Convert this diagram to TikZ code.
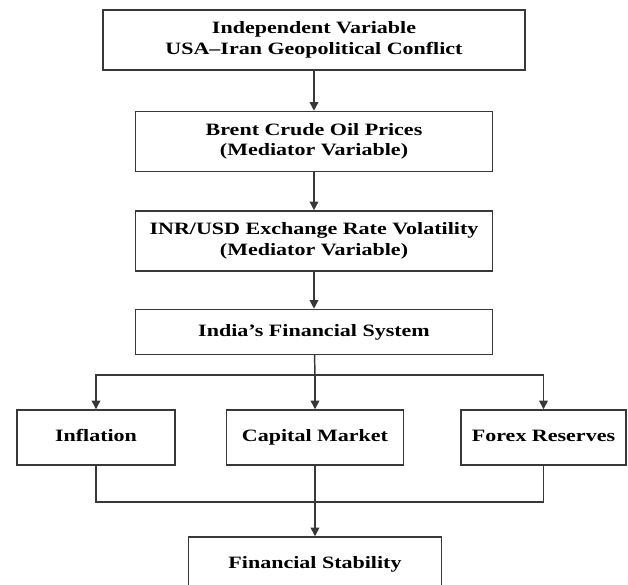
\documentclass[tikz,border=0pt]{standalone}
\usepackage{fontspec}
\setmainfont{Liberation Serif}[FakeStretch=1.27]
\usetikzlibrary{positioning, arrows.meta}
\definecolor{edge}{HTML}{383838}
\begin{document}
\begin{tikzpicture}[>={Triangle[length=6.5pt, width=6.5pt]}, x=0.75pt, y=-0.75pt, line width=1.1pt, draw=edge,
    box/.style={draw=edge, align=center, inner sep=0pt, minimum height=45pt,
        font=\fontsize{13}{15.5}\selectfont\bfseries},
    rowbox/.style={box, minimum height=41.25pt, text height=9pt, text depth=2.5pt}]
                \useasboundingbox (0,0) rectangle (628,585);
                \clip (0,0) rectangle (628,585);
                \node[box, minimum width=316.5pt] (iv) at (314,40) {Independent Variable\\USA--Iran Geopolitical Conflict};
                \node[box, minimum width=267.75pt, below=30pt of iv] (oil) {Brent Crude Oil Prices\\(Mediator Variable)};
                \node[box, minimum width=267.75pt, below=28.5pt of oil] (fx) {INR/USD Exchange Rate Volatility\\(Mediator Variable)};
                \node[box, minimum width=267.75pt, minimum height=33.75pt, text height=9pt, text depth=2.5pt, below=27.75pt of fx] (sys) {India's Financial System};
                \node[rowbox, minimum width=118.5pt] (infl) at (96,437.5) {Inflation};
                \node[rowbox, minimum width=132.75pt] (cap) at (315,437.5) {Capital Market};
                \node[rowbox, minimum width=123.75pt] (forex) at (543.5,437.5) {Forex Reserves};
                \node[rowbox, minimum width=189.75pt] (fs) at (315,564.5) {Financial Stability};
                \coordinate (fork) at (315,375);
                \coordinate (join) at (315,502);
                \draw[->] (iv) -- (oil);
                \draw[->] (oil) -- (fx);
                \draw[->] (fx) -- (sys);
                \draw (sys) -- (fork);
                \draw[->] (fork) -| (infl);
                \draw[->] (fork) -| (forex);
                \draw[->] (fork) -- (cap);
                \draw (infl) |- (join) -| (forex);
                \draw[->] (cap) -- (fs);
            \end{tikzpicture}
\end{document}
